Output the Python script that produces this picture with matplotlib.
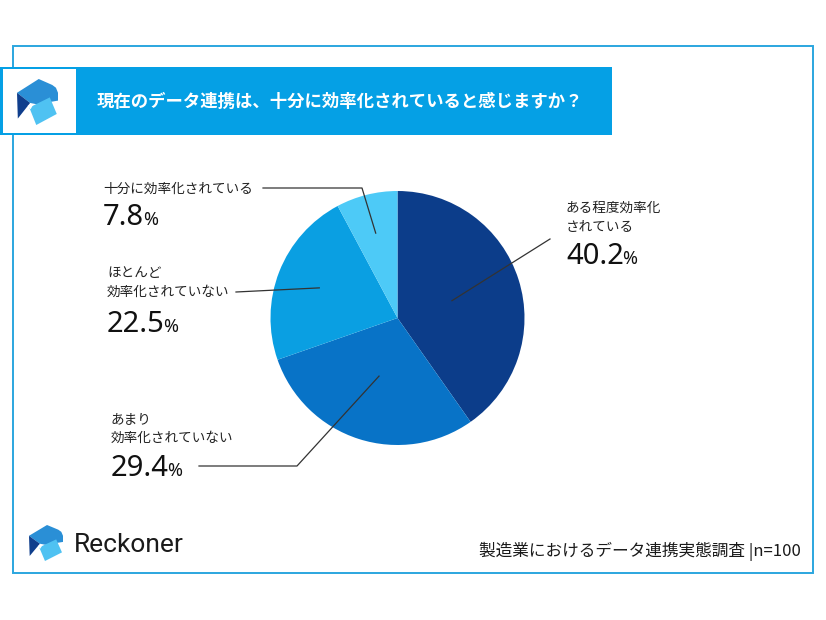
import numpy as np
import matplotlib
matplotlib.use("Agg")
import matplotlib.pyplot as plt
from matplotlib.patches import Rectangle, Polygon

plt.rcParams['font.family'] = ['Noto Sans CJK JP', 'DejaVu Sans']

# data
title = "現在のデータ連携は、十分に効率化されていると感じますか？"
labels = [["ある程度効率化", "されている"],
          ["あまり", "効率化されていない"],
          ["ほとんど", "効率化されていない"],
          ["十分に効率化されている"]]
values = [40.2, 29.4, 22.5, 7.8]
colors = ["#0c3d8a", "#0873c7", "#0a9fe2", "#4dcaf7"]
source = "製造業におけるデータ連携実態調査 |n=100"
brand = "Reckoner"

W, H = 826, 620
fig = plt.figure(figsize=(W / 100, H / 100), dpi=100)

# background axes in pixel coords (y down)
bg = fig.add_axes([0, 0, 1, 1])
bg.set_xlim(0, W)
bg.set_ylim(H, 0)
bg.axis("off")

bg.add_patch(Rectangle((12.5, 45.5), 800.5, 527.5, fill=False,
                       edgecolor="#2ba6df", lw=1.4))
bg.add_patch(Rectangle((0, 67), 612, 68, color="#05a0e5", lw=0))
bg.add_patch(Rectangle((3, 69), 73, 64, color="white", lw=0))
bg.text(97, 102, title, color="white", fontsize=12.5, fontweight="bold",
        va="center", ha="left")


def logo(x0, y0, w, h):
    def pts(p):
        return [(x0 + a * w, y0 + b * h) for a, b in p]
    bg.add_patch(Polygon(pts([(0, 0.3), (0.53, 0), (0.86, 0.13), (0.95, 0.19), (1, 0.3),
                              (1, 0.47), (0.48, 0.55), (0.32, 0.52)]),
                         color="#2a8fd6", lw=0))
    bg.add_patch(Polygon(pts([(0, 0.3), (0.32, 0.52), (0.02, 0.86)]),
                         color="#0f3e8c", lw=0))
    bg.add_patch(Polygon(pts([(0.30, 0.62), (0.80, 0.40), (0.97, 0.76), (0.47, 1.0)]),
                         color="#4fc2f2", lw=0))
    bg.add_patch(Polygon(pts([(0.26, 0.58), (0.40, 0.55), (0.33, 0.66)]),
                         color="white", lw=0))


logo(17, 79, 41, 46)
logo(29, 525, 34, 36)
bg.text(74, 552, brand, fontsize=19, color="#1a1a1a", family=["Roboto", "DejaVu Sans"],
        va="baseline", ha="left")
bg.text(801, 551, source, fontsize=12, color="#1a1a1a", va="center", ha="right")

# pie
cx, cy, r = 397.5, 318, 127
pax = fig.add_axes([(cx - r) / W, (H - cy - r) / H, 2 * r / W, 2 * r / H])
pax.pie(values, colors=colors, startangle=90, counterclock=False, radius=1,
        wedgeprops=dict(linewidth=0))
pax.set_xlim(-1, 1)
pax.set_ylim(-1, 1)
pax.axis("off")

# label layout: (text left x, line centers y, number baseline y, leader path start, anchor radius)
layout = [
    (566, [208, 227], 264, [(550, 239)], 0.45),
    (111, [419, 438], 476, [(199, 466), (297, 466)], 0.48),
    (107, [273, 292], 332, [(236, 292)], 0.66),
    (103, [189], 225, [(263, 188), (362, 188)], 0.69),
]

renderer = fig.canvas.get_renderer()
cum = np.cumsum([0] + values[:-1])
for i, v in enumerate(values):
    tx, ly, nb, path, rr = layout[i]
    for line, yy in zip(labels[i], ly):
        bg.text(tx, yy, line, fontsize=9.8, color="#222222", va="center", ha="left")
    num = bg.text(tx, nb, f"{v:.1f}", fontsize=21, color="#111111",
                  family=["Noto Sans", "DejaVu Sans"], va="baseline", ha="left")
    bb = num.get_window_extent(renderer)
    px = bg.transData.inverted().transform((bb.x1, bb.y0))[0]
    bg.text(px - 1.5, nb, "%", fontsize=13, color="#111111",
            family=["Noto Sans", "DejaVu Sans"], va="baseline", ha="left")
    # anchor on wedge
    ang = np.deg2rad(90 - (cum[i] + v / 2) * 3.6)
    ax_ = cx + rr * r * np.cos(ang)
    ay_ = cy - rr * r * np.sin(ang)
    xs = [p[0] for p in path] + [ax_]
    ys = [p[1] for p in path] + [ay_]
    bg.plot(xs, ys, color="#333333", lw=0.9, zorder=5)

bg.set_zorder(1)
bg.patch.set_alpha(0)
fig.savefig("out.png", dpi=100, facecolor="white")
